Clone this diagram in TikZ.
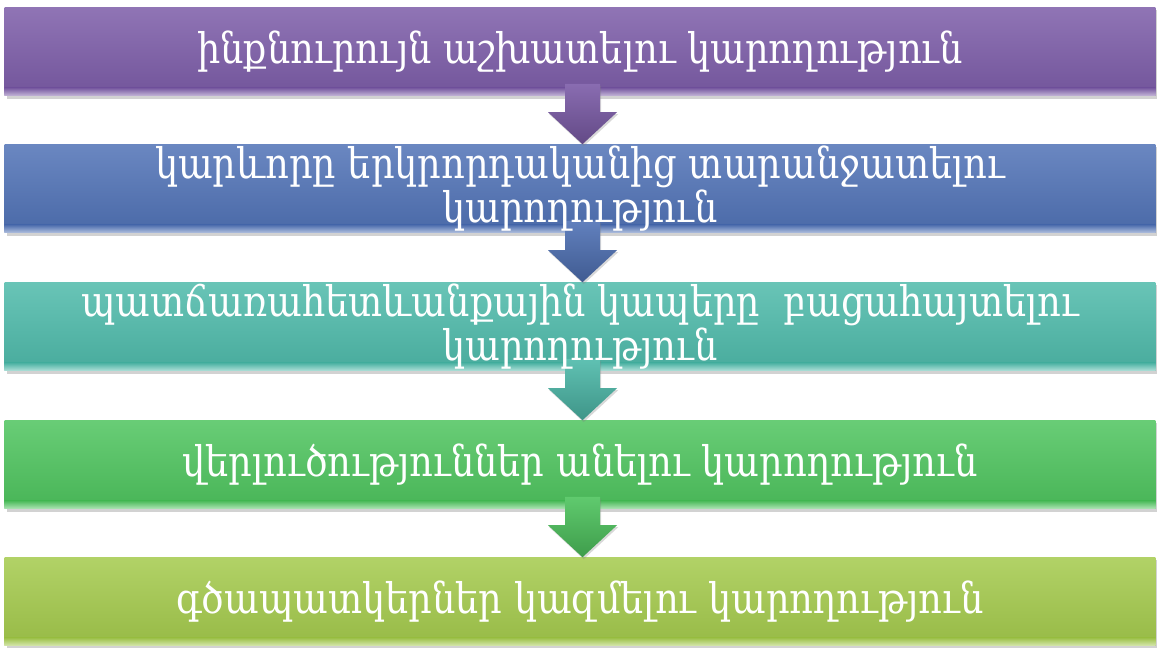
\documentclass[tikz,border=0pt]{standalone}
\usepackage{fontspec}
\setmainfont{DejaVu Serif}[FakeStretch=0.87]
\usetikzlibrary{positioning,calc,shadows,backgrounds}
\definecolor{boxpurple}{RGB}{124,92,168}
\definecolor{boxblue}{RGB}{80,114,182}
\definecolor{boxteal}{RGB}{78,186,170}
\definecolor{boxgreen}{RGB}{78,196,94}
\definecolor{boxlime}{RGB}{164,202,76}

\begin{document}
\begin{tikzpicture}[x=0.025cm,y=-0.025cm,
  step box/.style={minimum width=28.75cm,minimum height=2.2cm,inner sep=0pt,text=white,align=center,font=\fontsize{30}{29}\selectfont}]
\useasboundingbox (0,0) rectangle (1158,648);
\node[step box] (ability1) at (580,51.5) {ինքնուրույն աշխատելու կարողություն};
\node[step box] (ability2) at (580,188.5) {կարևորը երկրորդականից տարանջատելու\\կարողություն};
\node[step box] (ability3) at (580,326.5) {պատճառահետևանքային կապերը~ բացահայտելու\\կարողություն};
\node[step box] (ability4) at (580,464.5) {վերլուծություններ անելու կարողություն};
\node[step box] (ability5) at (580,601.5) {գծապատկերներ կազմելու կարողություն};
\begin{scope}[on background layer]
\fill[white] (0,0) rectangle (1158,648);
% boxes with a light strip at the bottom
\foreach \n/\c in {ability1/boxpurple,ability2/boxblue,ability3/boxteal,ability4/boxgreen,ability5/boxlime}{
  \shade[top color=\c!85!white,bottom color=\c!92!black,drop shadow={opacity=0.35,shadow xshift=0.05cm,shadow yshift=-0.08cm}] (\n.north west) rectangle (\n.south east);
  \shade[top color=\c!95!black,bottom color=\c!45!white] ($(\n.south west)+(0,-8)$) rectangle (\n.south east);
}
% block arrows between the boxes
\foreach \a/\b/\c in {ability1/ability2/boxpurple,ability2/ability3/boxblue,ability3/ability4/boxteal,ability4/ability5/boxgreen}{
  \shade[top color=\c!90!white,bottom color=\c!80!black,drop shadow={opacity=0.3,shadow xshift=0.03cm,shadow yshift=-0.05cm}]
    ($(\a.south)+(-15,-12)$) -- ($(\a.south)+(20,-12)$) -- ($(\b.north)+(20,-32)$) -- ($(\b.north)+(37,-32)$)
    -- ($(\b.north)+(2.5,0)$) -- ($(\b.north)+(-32,-32)$) -- ($(\b.north)+(-15,-32)$) -- cycle;
}
\end{scope}
\end{tikzpicture}
\end{document}
